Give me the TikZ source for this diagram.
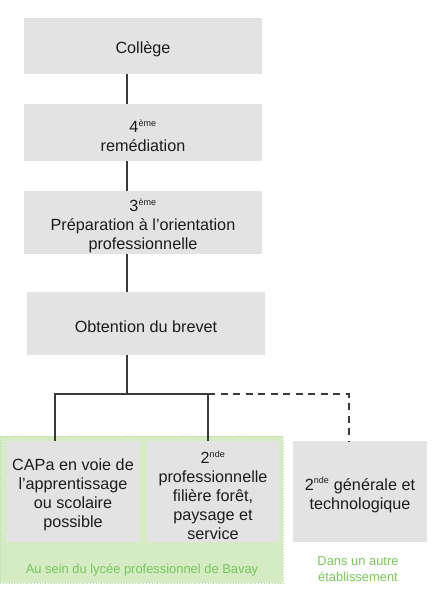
\documentclass[tikz,border=0pt]{standalone}
\usepackage{fontspec}
\setmainfont{Liberation Sans}
\definecolor{boxgray}{HTML}{E3E3E3}
\definecolor{linegray}{HTML}{3A3A3A}
\definecolor{txtgray}{HTML}{1C1C1C}
\definecolor{greenfill}{HTML}{D4EBC4}
\definecolor{greenedge}{HTML}{B5DDA0}
\definecolor{greentext}{HTML}{78C55A}
\tikzset{
  stagebox/.style={fill=boxgray, draw=none, inner sep=0pt},
  stagetext/.style={align=center, text=txtgray,
    font=\fontsize{16.2}{19}\selectfont, inner sep=0pt, yshift=-3.5pt},
  conn/.style={draw=linegray, line width=1.8pt},
  dconn/.style={draw=linegray, line width=1.8pt, dash pattern=on 7pt off 5.5pt},
  greennote/.style={text=greentext, align=center, font=\fontsize{12.9}{16}\selectfont}
}
\newcommand{\up}[1]{\textsuperscript{\fontsize{9}{9}\selectfont #1}}
\begin{document}
\begin{tikzpicture}[x=1pt,y=-1pt]
\useasboundingbox (0,0) rectangle (435,616);
% green region
\node[fill=greenfill, draw=greenedge, dotted, line width=0.8pt, minimum width=283pt, minimum height=147pt, inner sep=0pt, anchor=north west] (zone) at (0,436) {};
% boxes
\node[stagebox, minimum width=238pt, minimum height=56pt] (college) at (143,46) {};
\node[stagetext] (collegeT) at (college.center) {Collège};
\node[stagebox, minimum width=238pt, minimum height=57pt] (rem) at (143,132.5) {};
\node[stagetext] (remT) at (rem.center) {4\up{ème}\\remédiation};
\node[stagebox, minimum width=238pt, minimum height=63pt] (prep) at (143,222.5) {};
\node[stagetext] (prepT) at (prep.center) {3\up{ème}\\Préparation à l’orientation\\professionnelle};
\node[stagebox, minimum width=238pt, minimum height=63pt] (brevet) at (146,323.5) {};
\node[stagetext] (brevetT) at (brevet.center) {Obtention du brevet};
\node[stagebox, minimum width=134pt, minimum height=101pt] (capa) at (73,491.5) {};
\node[stagetext] (capaT) at (capa.center) {CAPa en voie de\\l’apprentissage\\ou scolaire\\possible};
\node[stagebox, minimum width=132pt, minimum height=101pt] (pro) at (213,491.5) {};
\node[stagetext] (proT) at (pro.center) {2\up{nde}\\professionnelle\\filière forêt,\\paysage et\\service};
\node[stagebox, minimum width=134pt, minimum height=101pt] (gen) at (360,491.5) {};
\node[stagetext] (genT) at (gen.center) {2\up{nde} générale et\\technologique};
% notes
\node[greennote] (lp) at (142,570) {Au sein du lycée professionnel de Bavay};
\node[greennote] (autre) at (358,569.5) {Dans un autre\\établissement};
% spine
\coordinate (spine) at (127,0);
\coordinate (fork) at (127,394);
\coordinate (capx) at (55,0);
\coordinate (prox) at (208,0);
\coordinate (genx) at (349,0);
\draw[conn] (college.south -| spine) -- (rem.north -| spine);
\draw[conn] (rem.south -| spine) -- (prep.north -| spine);
\draw[conn] (prep.south -| spine) -- (brevet.north -| spine);
\draw[conn] (brevet.south -| spine) -- (fork);
\draw[conn] (capa.north -| capx) -- (fork -| capx) -- (fork -| prox) -- (pro.north -| prox);
\draw[dconn] (fork -| prox) -- (fork -| genx) -- (gen.north -| genx);
\end{tikzpicture}
\end{document}
